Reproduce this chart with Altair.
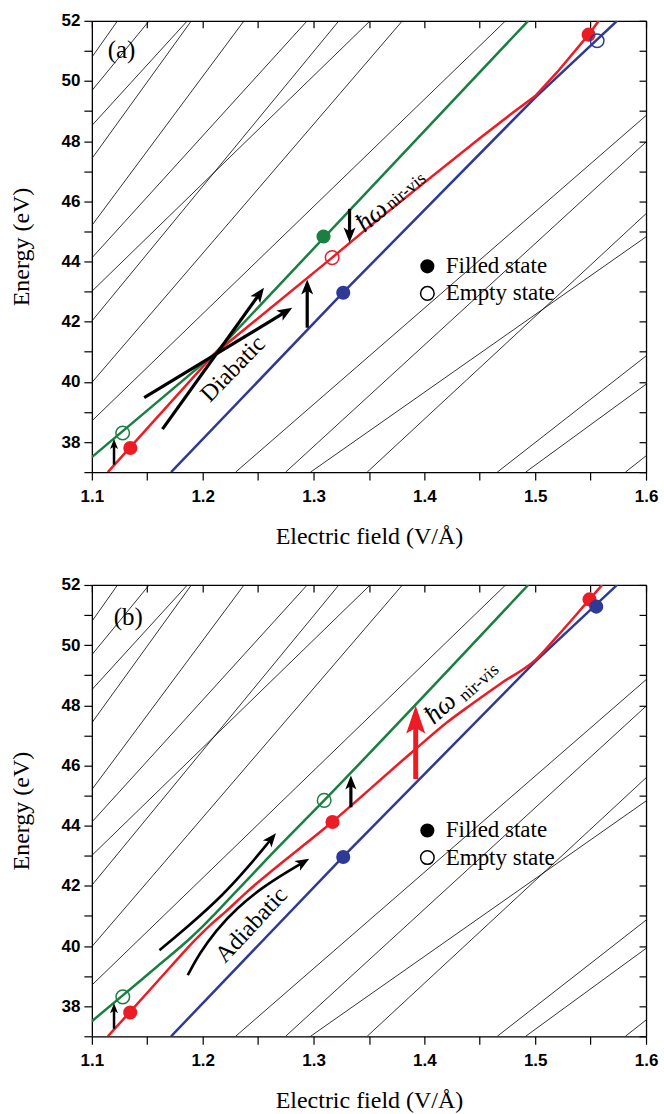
import math
import altair as alt
import pandas as pd

# ---------------- geometry / styles ----------------
W, H = 555, 452
X0, X1 = 1.1, 1.6
Y0, Y1 = 37.0, 52.0
KX = W / (X1 - X0)
KY = H / (Y1 - Y0)

GREEN = "#1a8042"
RED = "#ed1c24"
BLUE = "#2e3a96"
SERIF = "Liberation Serif"
SANS = "Liberation Sans"

# ---------------- data ----------------
x_ticks = [1.1, 1.15, 1.2, 1.25, 1.3, 1.35, 1.4, 1.45, 1.5, 1.55, 1.6]
y_ticks = [37, 38, 39, 40, 41, 42, 43, 44, 45, 46, 47, 48, 49, 50, 51, 52]

# thin black background levels (same in both panels)
bg_x1 = [1.1, 1.1, 1.1, 1.1, 1.1, 1.1, 1.1, 1.1, 1.1, 1.1,
         1.2297, 1.2748, 1.2973, 1.3484, 1.4658, 1.4914, 1.5814]
bg_y1 = [50.79, 49.68, 48.52, 47.42, 45.20, 44.12, 43.01, 42.02, 39.98, 38.70,
         37, 37, 37, 37, 37, 37, 37]
bg_x2 = [1.1232, 1.1517, 1.1862, 1.1898, 1.2373, 1.2943, 1.3511, 1.3229, 1.3802, 1.4733,
         1.6, 1.6, 1.6, 1.6, 1.6, 1.6, 1.6]
bg_y2 = [52, 52, 52, 52, 52, 52, 52, 52, 52, 52,
         48.85, 47.97, 44.82, 45.59, 40.86, 39.92, 37.54]

# panel (a) coloured levels (diabatic)
green_a_x = [1.1, 1.2103, 1.4937]
green_a_y = [37.5, 40.92, 52.0]
red_a_x = [1.1144, 1.2103, 1.3168, 1.35, 1.45, 1.48, 1.5, 1.52, 1.5482, 1.5574]
red_a_y = [37.0, 40.92, 44.13, 45.15, 48.1, 48.95, 49.5, 50.3, 51.54, 52.0]
blue_x = [1.1715, 1.327, 1.5, 1.5739]
blue_y = [37.0, 42.98, 49.45, 52.0]

# panel (b) coloured levels (adiabatic)
green_b_x = [1.1, 1.1279, 1.16, 1.19, 1.2, 1.21, 1.22, 1.235, 1.26, 1.3096, 1.4937]
green_b_y = [37.5, 38.36, 39.35, 40.3, 40.65, 41.03, 41.42, 42.0, 42.97, 44.84, 52.0]
red_b_x = [1.1144, 1.1347, 1.17, 1.19, 1.2, 1.21, 1.22, 1.24, 1.3171, 1.3922, 1.42,
           1.4432, 1.47, 1.5, 1.52, 1.549, 1.5604]
red_b_y = [37.0, 37.82, 39.27, 40.08, 40.45, 40.8, 41.12, 41.8, 44.13, 46.55, 47.42,
           48.05, 48.75, 49.5, 50.3, 51.52, 52.0]

# state markers
fill_a_x = [1.309, 1.3268, 1.1347, 1.5482]
fill_a_y = [44.83, 42.96, 37.80, 51.54]
fill_a_c = [GREEN, BLUE, RED, RED]
open_a_x = [1.1278, 1.3168, 1.5559]
open_a_y = [38.30, 44.13, 51.34]
open_a_c = [GREEN, RED, BLUE]

fill_b_x = [1.3171, 1.3268, 1.1346, 1.549, 1.5551]
fill_b_y = [44.12, 42.96, 37.79, 51.52, 51.28]
fill_b_c = [RED, BLUE, RED, RED, BLUE]
open_b_x = [1.1279, 1.3096]
open_b_y = [38.31, 44.84]
open_b_c = [GREEN, GREEN]

# straight black arrows
arr_a_x1 = [1.2943, 1.3325, 1.1472, 1.1637]
arr_a_y1 = [41.8, 45.75, 39.48, 38.43]
arr_a_x2 = [1.2943, 1.3325, 1.2808, 1.2553]
arr_a_y2 = [43.4, 44.63, 42.46, 43.13]
small_arr_x1 = [1.12]
small_arr_y1 = [37.25]
small_arr_x2 = [1.12]
small_arr_y2 = [38.1]
arr_b_x1 = [1.3337]
arr_b_y1 = [44.61]
arr_b_x2 = [1.3337]
arr_b_y2 = [45.67]
red_arr_x1 = [1.3922]
red_arr_y1 = [45.55]
red_arr_x2 = [1.3922]
red_arr_y2 = [47.99]

# curved arrows of panel (b)
curve_up_x = [1.161, 1.188, 1.218, 1.2421, 1.2661]
curve_up_y = [39.86, 40.69, 41.68, 42.67, 43.75]
curve_lo_x = [1.1865, 1.197, 1.2121, 1.2301, 1.2541, 1.2781, 1.2961]
curve_lo_y = [39.03, 39.75, 40.52, 41.24, 41.96, 42.51, 42.9]

# ---------------- helpers ----------------
xs = alt.Scale(domain=[X0, X1], nice=False, zero=False)
ys = alt.Scale(domain=[Y0, Y1], nice=False, zero=False)


def ex(field="x"):
    return alt.X(f"{field}:Q", scale=xs, axis=None)


def ey(field="y"):
    return alt.Y(f"{field}:Q", scale=ys, axis=None)


HEAD = "M0,0 L0.4,1 L0,0.75 L-0.4,1 Z"
HEAD_RED = "M0,0 L0.34,1 L0,0.8 L-0.34,1 Z"


def head_angle(dxp, dyp):
    return math.degrees(math.atan2(dxp, -dyp)) % 360


def arrows(x1s, y1s, x2s, y2s, color, width, head_len, path):
    shafts, heads = [], []
    for a, b, c, d in zip(x1s, y1s, x2s, y2s):
        dxp = (c - a) * KX
        dyp = -(d - b) * KY
        L = math.hypot(dxp, dyp)
        ux, uy = dxp / L, dyp / L
        s = 0.65 * head_len
        shafts.append({"x": a, "y": b, "x2": c - ux * s / KX, "y2": d + uy * s / KY})
        heads.append({"x": c, "y": d, "ang": head_angle(dxp, dyp)})
    sh = alt.Chart(pd.DataFrame(shafts)).mark_rule(color=color, strokeWidth=width).encode(
        x=ex(), y=ey(), x2="x2:Q", y2="y2:Q")
    hd = alt.Chart(pd.DataFrame(heads)).mark_point(
        shape=path, filled=True, color=color, opacity=1, size=(2 * head_len) ** 2, strokeWidth=0
    ).encode(x=ex(), y=ey(), angle=alt.Angle("ang:Q", scale=None))
    return [sh, hd]


def curved_arrow(cx, cy, color, width, head_len):
    dxp = (cx[-1] - cx[-2]) * KX
    dyp = -(cy[-1] - cy[-2]) * KY
    L = math.hypot(dxp, dyp)
    s = 0.65 * head_len
    px = list(cx[:-1]) + [cx[-1] - dxp / L * s / KX]
    py = list(cy[:-1]) + [cy[-1] + dyp / L * s / KY]
    df = pd.DataFrame({"x": px, "y": py, "o": list(range(len(px)))})
    ln = alt.Chart(df).mark_line(color=color, strokeWidth=width, interpolate="basis").encode(
        x=ex(), y=ey(), order="o:Q")
    hd = alt.Chart(pd.DataFrame({"x": [cx[-1]], "y": [cy[-1]], "ang": [head_angle(dxp, dyp)]})).mark_point(
        shape=HEAD, filled=True, color=color, opacity=1, size=(2 * head_len) ** 2, strokeWidth=0
    ).encode(x=ex(), y=ey(), angle=alt.Angle("ang:Q", scale=None))
    return [ln, hd]


def curve(xv, yv, color, interp="linear"):
    df = pd.DataFrame({"x": xv, "y": yv, "o": list(range(len(xv)))})
    return alt.Chart(df).mark_line(color=color, strokeWidth=2.5, clip=True,
                                   interpolate=interp).encode(x=ex(), y=ey(), order="o:Q")


def markers(xv, yv, cv, filled):
    df = pd.DataFrame({"x": xv, "y": yv, "c": cv})
    if filled:
        m = alt.Chart(df).mark_point(filled=True, size=200, opacity=1, strokeWidth=0)
    else:
        m = alt.Chart(df).mark_point(filled=False, size=185, opacity=1, strokeWidth=1.5)
    return m.encode(x=ex(), y=ey(), color=alt.Color("c:N", scale=None))


def text(xv, yv, s, size=24, angle=0, align="center", style="normal"):
    df = pd.DataFrame({"x": [xv], "y": [yv], "t": [s]})
    kw = dict(font=SERIF, fontSize=size, align=align, baseline="middle", color="black",
              fontStyle=style)
    if angle:
        kw["angle"] = angle
    return alt.Chart(df).mark_text(**kw).encode(x=ex(), y=ey(), text="t:N")


def base_layers():
    bg = pd.DataFrame({"x": bg_x1, "y": bg_y1, "x2": bg_x2, "y2": bg_y2})
    x_axis = alt.Axis(
        orient="bottom", values=x_ticks,
        labelExpr="(round(datum.value*20) % 2 == 0) ? format(datum.value, '.1f') : ''",
        tickSize=8, tickColor="black", tickWidth=1.2, domainColor="black", domainWidth=1.3,
        labelFont=SANS, labelFontSize=17, labelFontWeight="bold", labelColor="black",
        labelPadding=8, labelFlush=False, labelOverlap=False,
        title="Electric field (V/Å)", titleFont=SERIF, titleFontSize=24,
        titleFontWeight="normal", titleColor="black", titlePadding=20, grid=False)
    y_axis = alt.Axis(
        orient="left", values=y_ticks,
        labelExpr="(datum.value % 2 == 0) ? format(datum.value, 'd') : ''",
        tickSize=8, tickColor="black", tickWidth=1.2, domainColor="black", domainWidth=1.3,
        labelFont=SANS, labelFontSize=17, labelFontWeight="bold", labelColor="black",
        labelPadding=4, labelOverlap=False,
        title="Energy (eV)", titleFont=SERIF, titleFontSize=24,
        titleFontWeight="normal", titleColor="black", titlePadding=28, grid=False)
    bg_layer = alt.Chart(bg).mark_rule(color="black", strokeWidth=0.8, clip=True).encode(
        x=alt.X("x:Q", scale=xs, axis=x_axis),
        y=alt.Y("y:Q", scale=ys, axis=y_axis),
        x2="x2:Q", y2="y2:Q")
    top_axis = alt.Axis(orient="bottom", offset=-H, values=x_ticks, labels=False,
                        tickSize=7, tickColor="black", tickWidth=1.2, domainColor="black",
                        domainWidth=1.3, title=None, grid=False)
    right_axis = alt.Axis(orient="left", offset=-W, values=y_ticks, labels=False,
                          tickSize=7, tickColor="black", tickWidth=1.2, domainColor="black",
                          domainWidth=1.3, title=None, grid=False)
    frame_layer = alt.Chart(bg).mark_point(opacity=0).encode(
        x=alt.X("x:Q", scale=xs, axis=top_axis),
        y=alt.Y("y:Q", scale=ys, axis=right_axis))
    return [bg_layer, frame_layer]


def legend_layers():
    lx = 1.4027
    layers = [
        markers([lx], [43.84], ["black"], True),
        markers([lx], [42.94], ["black"], False),
        text(1.4193, 43.84, "Filled state", size=23, align="left"),
        text(1.4193, 42.94, "Empty state", size=23, align="left"),
    ]
    return layers


# ---------------- panel (a) ----------------
layers_a = base_layers() + [
    curve(blue_x, blue_y, BLUE),
    curve(green_a_x, green_a_y, GREEN),
    curve(red_a_x, red_a_y, RED),
]
layers_a += arrows(arr_a_x1, arr_a_y1, arr_a_x2, arr_a_y2, "black", 3.2, 15, HEAD)
layers_a += arrows(small_arr_x1, small_arr_y1, small_arr_x2, small_arr_y2, "black", 2.5, 10, HEAD)
layers_a += [
    markers(fill_a_x, fill_a_y, fill_a_c, True),
    markers(open_a_x, open_a_y, open_a_c, False),
    text(1.1268, 51.04, "(a)", size=25),
    text(1.2274, 40.42, "Diabatic", size=24, angle=314),
    text(1.3525, 45.5, "ħω", size=27, angle=320, style="italic"),
    text(1.3835, 46.33, "nir-vis", size=18, angle=320),
] + legend_layers()

panel_a = alt.layer(*layers_a).resolve_axis(x="independent", y="independent").properties(
    width=W, height=H)

# ---------------- panel (b) ----------------
layers_b = base_layers() + [
    curve(blue_x, blue_y, BLUE),
    curve(green_b_x, green_b_y, GREEN, "monotone"),
    curve(red_b_x, red_b_y, RED, "monotone"),
]
layers_b += arrows(arr_b_x1, arr_b_y1, arr_b_x2, arr_b_y2, "black", 3.2, 14, HEAD)
layers_b += arrows(small_arr_x1, small_arr_y1, small_arr_x2, small_arr_y2, "black", 2.5, 10, HEAD)
layers_b += arrows(red_arr_x1, red_arr_y1, red_arr_x2, red_arr_y2, RED, 5, 28, HEAD_RED)
layers_b += curved_arrow(curve_up_x, curve_up_y, "black", 2.6, 14)
layers_b += curved_arrow(curve_lo_x, curve_lo_y, "black", 2.6, 14)
layers_b += [
    markers(fill_b_x, fill_b_y, fill_b_c, True),
    markers(open_b_x, open_b_y, open_b_c, False),
    text(1.1329, 50.92, "(b)", size=25),
    text(1.2441, 40.69, "Adiabatic", size=24, angle=313),
    text(1.4145, 47.9, "ħω", size=27, angle=318, style="italic"),
    text(1.4495, 48.74, "nir-vis", size=18, angle=318),
] + legend_layers()

panel_b = alt.layer(*layers_b).resolve_axis(x="independent", y="independent").properties(
    width=W, height=H)

chart = alt.vconcat(panel_a, panel_b, spacing=26).properties(
    padding={"left": 8, "top": 10, "right": 5, "bottom": 5}
).configure_view(strokeWidth=0).configure(background="white")

chart.save("out.html", embed_options={"renderer": "svg", "actions": False})
